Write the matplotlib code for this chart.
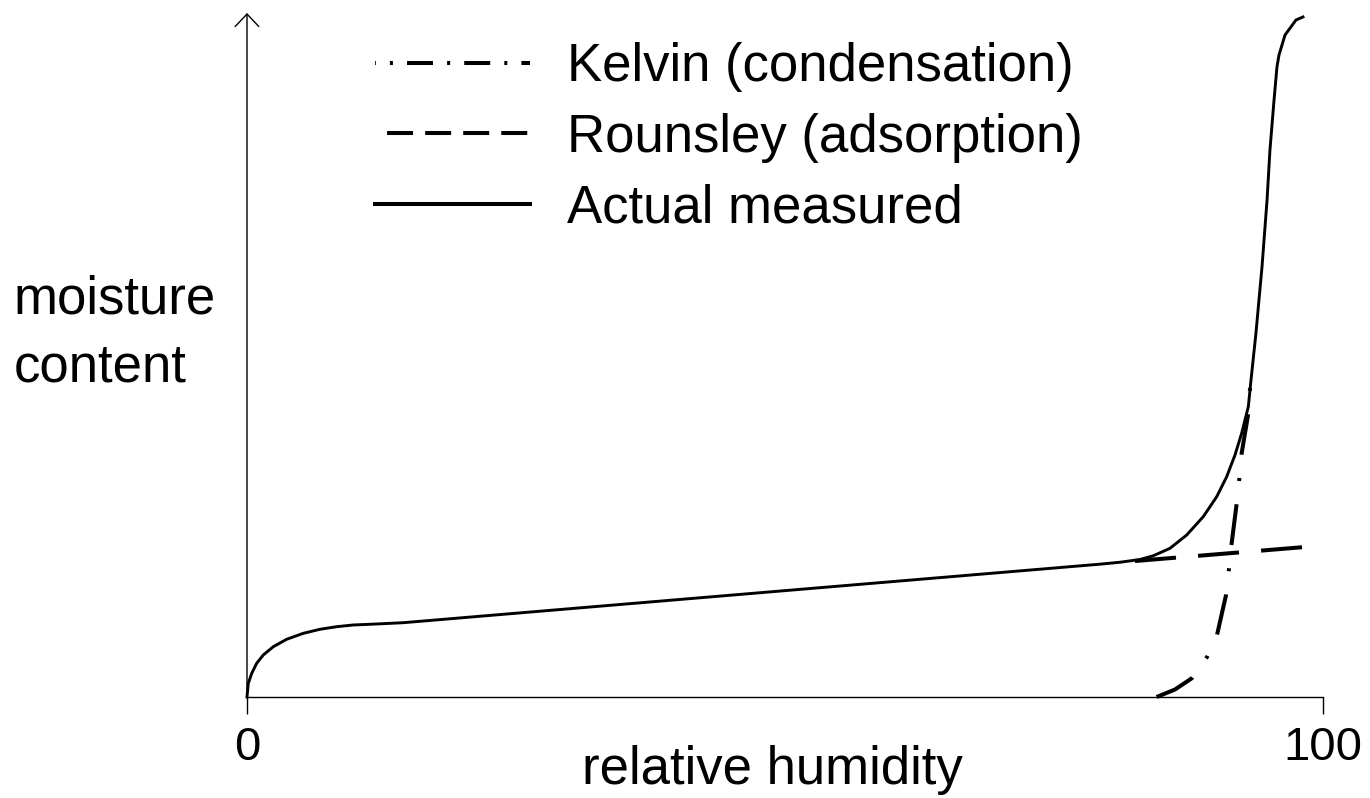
"""Moisture sorption isotherm sketch: Kelvin, Rounsley and measured curves."""

import matplotlib
matplotlib.use('Agg')
import matplotlib.pyplot as plt
from matplotlib.lines import Line2D

plt.rcParams['font.family'] = ['Liberation Sans', 'DejaVu Sans']

# Actual measured curve (relative humidity %, moisture content in arbitrary units 0-100)
measured_rh = [0, 0.12, 0.44, 0.90, 1.51, 2.44, 3.69, 5.23, 6.78, 8.34, 9.88, 11.43,
               14.50, 79.28, 81.13, 82.99, 84.23, 85.78, 87.33, 88.87, 90.12, 91.05,
               91.82, 92.44, 93.06, 93.31, 93.77, 94.33, 94.80, 95.07, 95.45, 95.72,
               95.91, 96.47, 97.49, 98.14]
measured_mc = [0, 2.00, 3.46, 4.93, 6.14, 7.35, 8.44, 9.31, 9.90, 10.28, 10.53, 10.63,
               10.86, 19.42, 19.70, 20.10, 20.65, 21.74, 23.68, 26.36, 29.28, 32.21,
               35.38, 38.55, 42.44, 46.35, 53.22, 62.87, 72.66, 79.97, 87.28, 92.11,
               93.86, 96.78, 98.98, 99.42]

# Rounsley (adsorption) extension past the departure point
rounsley_rh = [82.53, 98.33]
rounsley_mc = [19.88, 21.93]

# Kelvin (condensation)
kelvin_rh = [84.54, 86.25, 87.80, 89.22, 90.15, 90.99, 91.26, 91.51, 91.98, 92.22,
             92.44, 93.06, 93.22]
kelvin_mc = [0, 1.10, 2.73, 5.85, 9.06, 14.91, 18.71, 22.47, 28.32, 31.87,
             35.63, 41.48, 45.18]

labels = ['Kelvin (condensation)', 'Rounsley (adsorption)', 'Actual measured']
x_ticks = [0, 100]

W, H = 1370, 798
fig = plt.figure(figsize=(W / 100, H / 100), dpi=100)
ax = fig.add_axes([247 / W, (H - 697) / H, 1076 / W, (697 - 13) / H])

ax.plot(kelvin_rh, kelvin_mc, color='black', lw=2.9,
        linestyle=(0, (10.2, 5.8, 0.75, 5.8)), dash_capstyle='butt', clip_on=False)
ax.plot(rounsley_rh, rounsley_mc, color='black', lw=2.9,
        linestyle=(0, (10.2, 5.5)), dash_capstyle='butt', clip_on=False)
ax.plot(measured_rh, measured_mc, color='black', lw=2.1, clip_on=False,
        solid_joinstyle='round')

ax.set_xlim(0, 100)
ax.set_ylim(0, 100)

for side in ['top', 'right', 'left']:
    ax.spines[side].set_visible(False)
ax.spines['bottom'].set_linewidth(1.0)

# y axis drawn as an arrow
ax.annotate('', xy=(0, 100), xytext=(0, 0), xycoords='data',
            arrowprops=dict(arrowstyle='->,head_length=0.9,head_width=0.85',
                            lw=1.0, color='black', shrinkA=0, shrinkB=0),
            annotation_clip=False)

ax.set_xticks(x_ticks)
ax.set_xticklabels([str(t) for t in x_ticks], fontsize=34)
ax.tick_params(axis='x', direction='out', length=12, width=1.0, pad=9)
ax.set_yticks([])

fig.text(772 / W, 1 - 770 / H, 'relative humidity', fontsize=38, ha='center', va='center')
fig.text(14 / W, 1 - 300 / H, 'moisture', fontsize=38, ha='left', va='center')
fig.text(14 / W, 1 - 368 / H, 'content', fontsize=38, ha='left', va='center')

handles = [
    Line2D([], [], color='black', lw=2.9, dash_capstyle='butt',
           linestyle=(10.5, (0.75, 3.5, 6.45, 3.5))),
    Line2D([], [], color='black', lw=2.9, dash_capstyle='butt',
           linestyle=(6.45, (6.45, 3.0))),
    Line2D([], [], color='black', lw=2.9),
]
ax.legend(handles, labels, loc='upper left', bbox_to_anchor=(375 / W, 1 - 42 / H),
          bbox_transform=fig.transFigure, frameon=False, fontsize=38,
          handlelength=2.94, handletextpad=0.7, labelspacing=0.39,
          borderpad=0, borderaxespad=0)

fig.savefig('out.png', dpi=100)
